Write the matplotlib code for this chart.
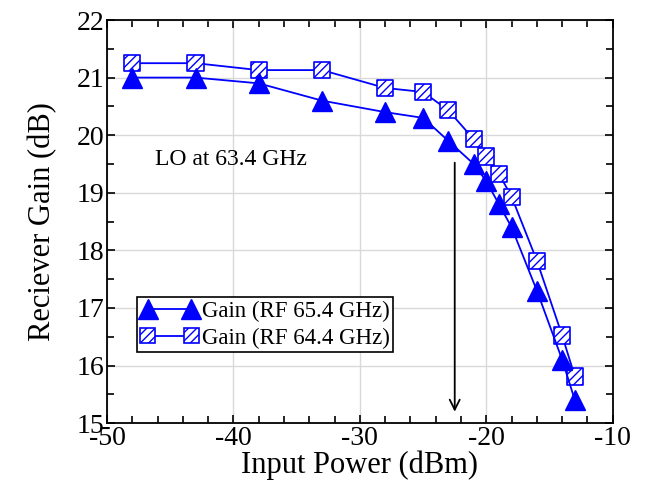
import matplotlib.pyplot as plt
from matplotlib.lines import Line2D
from matplotlib.patches import Rectangle
from matplotlib.legend_handler import HandlerBase
from matplotlib.ticker import MultipleLocator

plt.rcParams['font.family'] = ['Liberation Serif', 'DejaVu Serif']
plt.rcParams['axes.unicode_minus'] = False
plt.rcParams['hatch.linewidth'] = 1.0

p_in = [-48, -43, -38, -33, -28, -25, -23, -21, -20, -19, -18, -16, -14, -13]
gain_654 = [21.0, 21.0, 20.9, 20.6, 20.4, 20.3, 19.9, 19.5, 19.2, 18.8, 18.4, 17.3, 16.1, 15.4]
gain_644 = [21.25, 21.25, 21.13, 21.13, 20.82, 20.75, 20.43, 19.93, 19.63, 19.33, 18.93, 17.82, 16.52, 15.81]

blue = '#0000ff'


class HatchSquares(HandlerBase):
    # two hatched squares joined by a line, for the legend
    def create_artists(self, legend, orig_handle, xdescent, ydescent,
                       width, height, fontsize, trans):
        side = 10.5
        pad = 0.3 * fontsize
        y = height / 2 - ydescent
        x0 = -xdescent + pad
        x1 = width - xdescent - pad
        arts = [Line2D([x0, x1], [y, y], color=blue, lw=1.3, transform=trans)]
        for xc in (x0, x1):
            arts.append(Rectangle((xc - side / 2, y - side / 2), side, side,
                                  facecolor='white', edgecolor=blue,
                                  hatch='////', lw=1.2, transform=trans))
        return arts


fig = plt.figure(figsize=(6.45, 4.88), dpi=100)
ax = fig.add_axes([0.166, 0.133, 0.784, 0.826])

ax.grid(True, which='major', color='#d9d9d9', lw=1.0)
ax.set_axisbelow(True)

# square series: line + hatched squares
ln2, = ax.plot(p_in, gain_644, color=blue, lw=1.3, zorder=3)
sc2 = ax.scatter(p_in, gain_644, marker='s', s=135, facecolor='white',
                 edgecolor=blue, hatch='////', linewidths=1.2, zorder=4)
# triangle series
ln1, = ax.plot(p_in, gain_654, color=blue, lw=1.3, marker='^', ms=14,
               markerfacecolor=blue, markeredgecolor=blue, zorder=5)

ax.set_xlim(-50, -10)
ax.set_ylim(15, 22)
ax.xaxis.set_major_locator(MultipleLocator(10))
ax.xaxis.set_minor_locator(MultipleLocator(2))
ax.yaxis.set_major_locator(MultipleLocator(1))
ax.yaxis.set_minor_locator(MultipleLocator(0.5))
ax.tick_params(which='both', direction='in', top=True, right=True,
               labelsize=20, width=1.2)
ax.tick_params(which='major', length=6, pad=2)
ax.tick_params(which='minor', length=5)
for s in ax.spines.values():
    s.set_linewidth(1.3)

ax.set_xlabel('Input Power (dBm)', fontsize=22, labelpad=0)
ax.set_ylabel('Reciever Gain (dB)', fontsize=22, labelpad=14)

ax.text(-46.2, 19.57, 'LO at 63.4 GHz', fontsize=17, va='center', ha='left')
ax.annotate('', xy=(-22.5, 15.15), xytext=(-22.5, 19.57),
            arrowprops=dict(arrowstyle='->', color='black', lw=1.3,
                            mutation_scale=18))

h1 = Line2D([], [], color=blue, lw=1.3, marker='^', ms=14)
leg = ax.legend([h1, sc2],
                ['Gain (RF 65.4 GHz)', 'Gain (RF 64.4 GHz)'],
                handler_map={sc2: HatchSquares()},
                loc='lower left', bbox_to_anchor=(0.06, 0.176),
                borderaxespad=0, fontsize=16.5, numpoints=2,
                handlelength=2.5, handletextpad=0.15,
                borderpad=0.15, labelspacing=0.25, fancybox=False,
                edgecolor='black', framealpha=1)
leg.get_frame().set_linewidth(1.2)

fig.savefig('out.png', dpi=100)
